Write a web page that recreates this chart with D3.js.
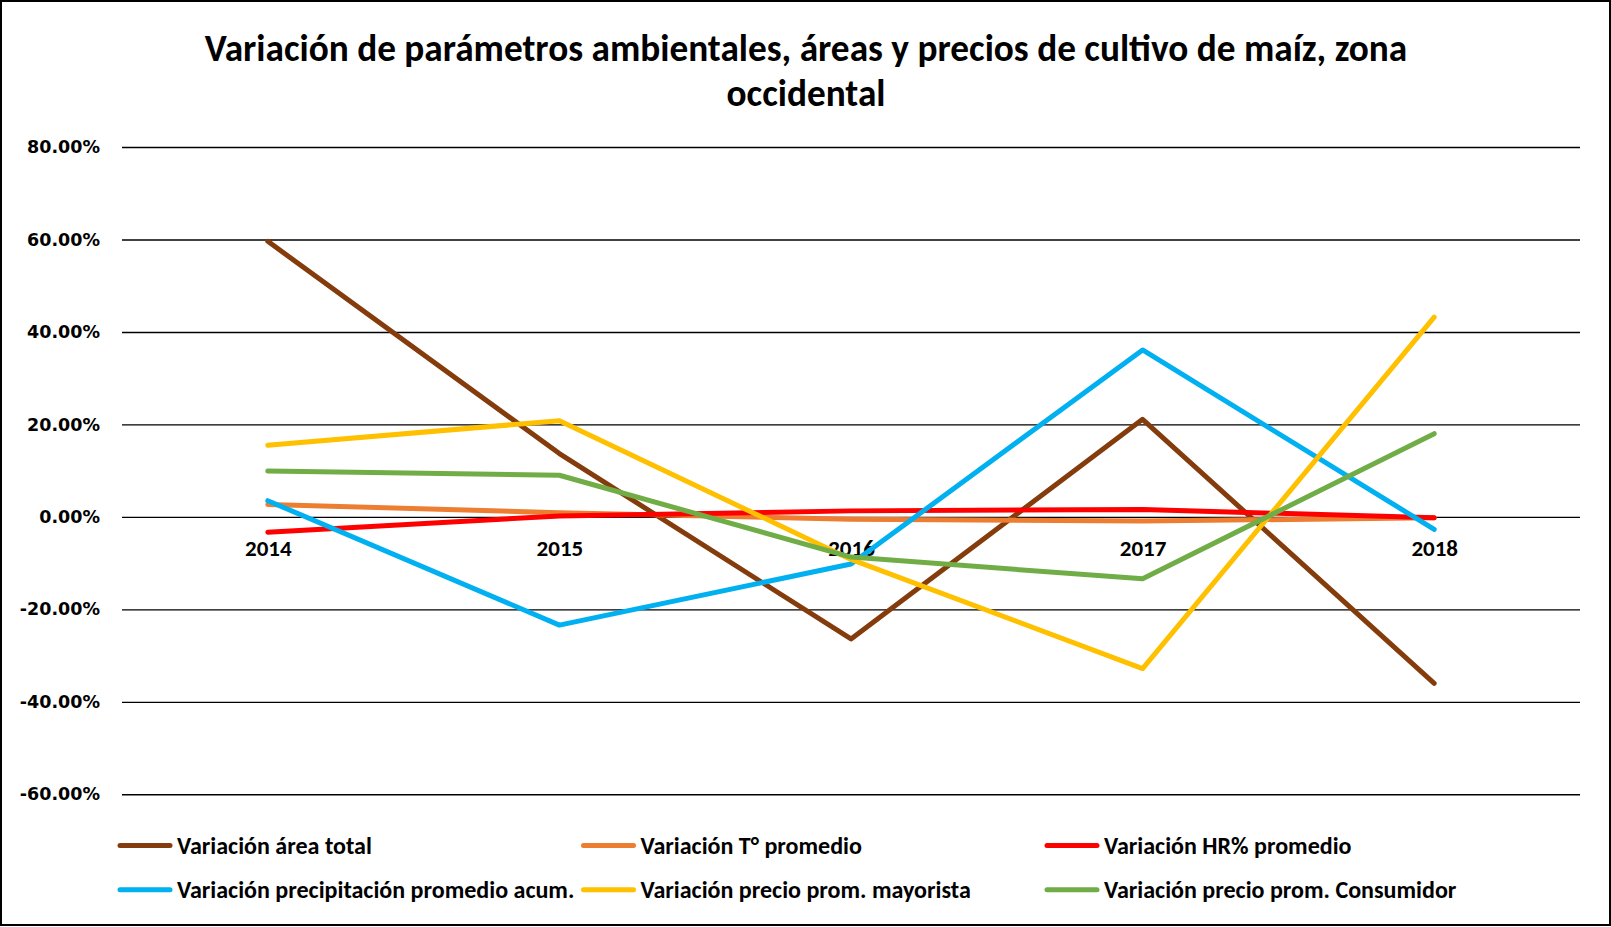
<!DOCTYPE html>
<html>
<head>
<meta charset="utf-8">
<script src="https://cdn.jsdelivr.net/npm/d3@7"></script>
<style>
  html, body { margin: 0; padding: 0; background: #fff; }
  svg { display: block; }
</style>
</head>
<body>
<svg id="chart" width="1611" height="927"></svg>
<script>
// Years on the category axis
const years = ["2014", "2015", "2016", "2017", "2018"];

// Series (fractions)
const areaTotal        = [0.596, 0.137, -0.264, 0.211, -0.360];
const tempPromedio     = [0.027, 0.009, -0.005, -0.009, -0.002];
const hrPromedio       = [-0.033, 0.002, 0.013, 0.016, -0.002];
const precipitacion    = [0.035, -0.234, -0.102, 0.361, -0.027];
const precioMayorista  = [0.155, 0.208, -0.092, -0.328, 0.432];
const precioConsumidor = [0.099, 0.090, -0.087, -0.134, 0.180];

const seriesNames = [
  "Variación área total",
  "Variación T° promedio",
  "Variación HR% promedio",
  "Variación precipitación promedio acum.",
  "Variación precio prom. mayorista",
  "Variación precio prom. Consumidor"
];
const seriesColors = ["#843C0C", "#ED7D31", "#FF0000", "#00B0F0", "#FFC000", "#70AD47"];
const seriesValues = [areaTotal, tempPromedio, hrPromedio, precipitacion, precioMayorista, precioConsumidor];

// Y-axis ticks
const yTicks = [0.8, 0.6, 0.4, 0.2, 0, -0.2, -0.4, -0.6];

const titleLines = [
  "Variación de parámetros ambientales, áreas y precios de cultivo de maíz, zona",
  "occidental"
];

const W = 1611, H = 927;
const narrow = "Carlito, Calibri, 'Liberation Sans Narrow', 'DejaVu Sans Condensed', sans-serif";
const svg = d3.select("#chart");

// Outer frame
svg.append("rect")
  .attr("x", 1).attr("y", 1).attr("width", W - 2).attr("height", H - 3)
  .attr("fill", "#fff").attr("stroke", "#000").attr("stroke-width", 2);

const plot = { left: 122, right: 1580, top: 147, bottom: 794.3 };

const x = d3.scalePoint().domain(years).range([plot.left, plot.right]).padding(0.5);
const y = d3.scaleLinear().domain([-0.6, 0.8]).range([plot.bottom, plot.top]);

// Title: size the first line to its target width, reuse that size for the second
const titleY = [48.3, 92.5];
const titleText = svg.selectAll(".title")
  .data(titleLines)
  .join("text")
  .attr("class", "title")
  .attr("x", 806).attr("y", (d, i) => titleY[i])
  .attr("text-anchor", "middle").attr("dominant-baseline", "central")
  .attr("font-family", narrow).attr("font-weight", "bold")
  .attr("font-size", 32).attr("fill", "#000")
  .text(d => d);
const firstW = titleText.nodes()[0].getComputedTextLength();
titleText.attr("font-size", 32 * 1203 / firstW);

// Gridlines + y-axis labels
const pct = d => d3.format(".2f")(d * 100).replace("\u2212", "-") + "%";
const yAxis = d3.axisLeft(y)
  .tickValues(yTicks)
  .tickSize(-(plot.right - plot.left))
  .tickPadding(22)
  .tickFormat(pct);

const gy = svg.append("g")
  .attr("transform", `translate(${plot.left},0)`)
  .call(yAxis);
gy.select(".domain").remove();
gy.selectAll(".tick line").attr("stroke", "#000").attr("stroke-width", 1.4);
gy.selectAll(".tick text")
  .attr("font-family", "'DejaVu Sans', Verdana, sans-serif")
  .attr("font-weight", "bold")
  .attr("font-size", 17.5)
  .attr("fill", "#000");

// Category axis crossing at zero
const xAxis = d3.axisBottom(x).tickSize(0).tickPadding(0);
const gx = svg.append("g")
  .attr("transform", `translate(0,${y(0)})`)
  .call(xAxis);
gx.select(".domain").remove();
gx.selectAll(".tick text")
  .attr("dy", null)
  .attr("y", 31)
  .attr("dominant-baseline", "central")
  .attr("font-family", narrow)
  .attr("font-weight", "bold")
  .attr("font-size", 23)
  .attr("fill", "#000");

// Series lines
const line = d3.line().x((d, i) => x(years[i])).y(d => y(d));
svg.append("g").selectAll("path")
  .data(seriesValues)
  .join("path")
  .attr("d", line)
  .attr("fill", "none")
  .attr("stroke", (d, s) => seriesColors[s])
  .attr("stroke-width", 5)
  .attr("stroke-linejoin", "round")
  .attr("stroke-linecap", "round");

// Legend: 3 columns x 2 rows
const legendCols = [118, 581.5, 1045];
const legendRows = [845.5, 889.7];
const lg = svg.append("g");
seriesNames.forEach((name, i) => {
  const cx = legendCols[i % 3], cy = legendRows[Math.floor(i / 3)];
  lg.append("line")
    .attr("x1", cx + 2).attr("x2", cx + 52)
    .attr("y1", cy).attr("y2", cy)
    .attr("stroke", seriesColors[i]).attr("stroke-width", 5)
    .attr("stroke-linecap", "round");
  lg.append("text")
    .attr("class", "legend-label")
    .attr("x", cx + 59).attr("y", cy)
    .attr("dominant-baseline", "central")
    .attr("font-family", narrow).attr("font-weight", "bold")
    .attr("font-size", 21).attr("fill", "#000")
    .text(name);
});
// size legend text so the longest entry spans its column
const labs = lg.selectAll(".legend-label");
const w3 = labs.nodes()[3].getComputedTextLength();
labs.attr("font-size", 21 * 397.6 / w3);
</script>
</body>
</html>
